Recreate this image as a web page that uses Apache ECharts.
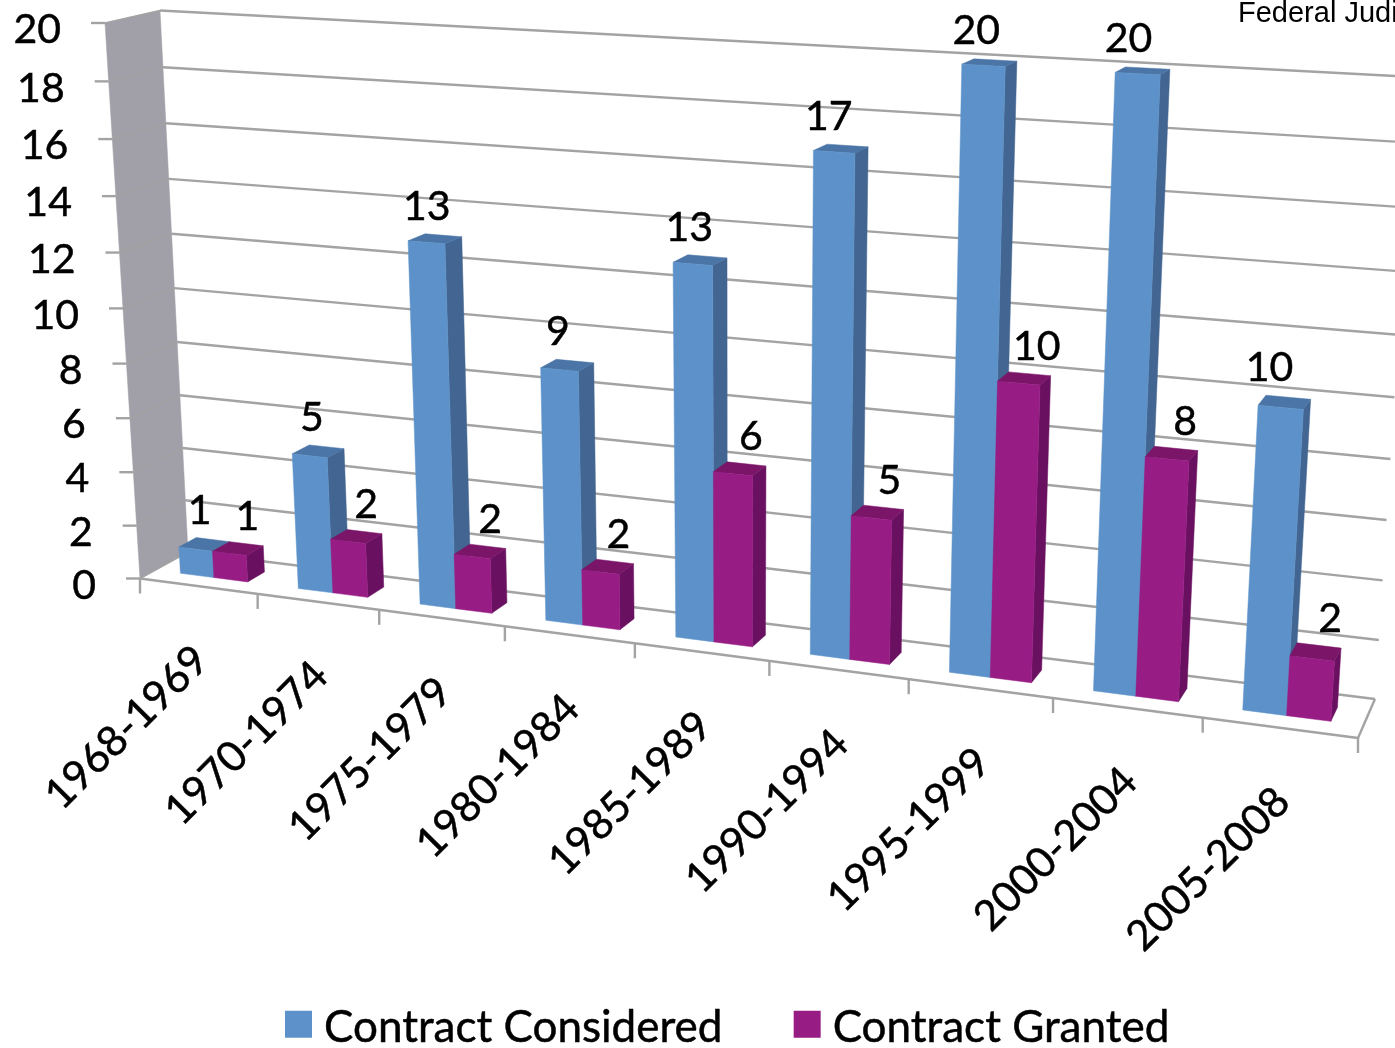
<!DOCTYPE html>
<html>
<head>
<meta charset="utf-8">
<style>html,body{margin:0;padding:0;background:#fff;overflow:hidden}#c{width:1395px;height:1048px}</style>
<script src="https://cdn.jsdelivr.net/npm/echarts@6/dist/echarts.min.js"></script>
</head>
<body>
<div id="c"></div>
<script>
var categories = ['1968-1969','1970-1974','1975-1979','1980-1984','1985-1989','1990-1994','1995-1999','2000-2004','2005-2008'];
var considered = [1,5,13,9,13,17,20,20,10];
var granted = [1,2,2,2,6,5,10,8,2];
var valueTicks = [0,2,4,6,8,10,12,14,16,18,20];
var seriesNames = ['Contract Considered','Contract Granted'];
var note = 'Federal Judi';

var FONT = 'Lato';
var LINE = '#a3a3a3';
var BLUE = {front:'#5c92c9', side:'#426591', top:'#4a75a6'};
var PURPLE = {front:'#971d85', side:'#6a1060', top:'#7a1568'};

// perspective box: corners of the front and back planes on the page
function homography(p0,p1,p2,p3){
  var dx1=p1[0]-p2[0],dx2=p3[0]-p2[0],sx=p0[0]-p1[0]+p2[0]-p3[0];
  var dy1=p1[1]-p2[1],dy2=p3[1]-p2[1],sy=p0[1]-p1[1]+p2[1]-p3[1];
  var den=dx1*dy2-dx2*dy1,g=(sx*dy2-dx2*sy)/den,h=(dx1*sy-sx*dy1)/den;
  var a=p1[0]-p0[0]+g*p1[0],b=p3[0]-p0[0]+h*p3[0],d=p1[1]-p0[1]+g*p1[1],e=p3[1]-p0[1]+h*p3[1];
  return function(u,v){var w=g*u+h*v+1;return [(a*u+b*v+p0[0])/w,(d*u+e*v+p0[1])/w];};
}
var frontPlane = homography([140,578.5],[1358,738],[1398,93],[105,23]);
var backPlane = homography([188,552],[1375,699],[1415,77],[160,10.5]);
function P(u,v,w){
  var f=frontPlane(u,v),b=backPlane(u,v);
  return [f[0]+(b[0]-f[0])*w,f[1]+(b[1]-f[1])*w];
}
var DEPTH0=0.32, DEPTH1=0.68, BAR=0.287, GROUP_LEFT=-0.283;

function line(a,b,width){return {type:'line',silent:true,shape:{x1:a[0],y1:a[1],x2:b[0],y2:b[1]},style:{stroke:LINE,lineWidth:width||2.4}};}
function poly(pts,fill){return {type:'polygon',silent:true,shape:{points:pts},style:{fill:fill,stroke:fill,lineWidth:0.5}};}
function text(str,x,y,opts){
  var o=opts||{};
  return {type:'text',silent:true,x:x,y:y,rotation:o.rotation||0,style:{text:str,fill:'#000',stroke:'#000',lineWidth:0.5,font:(o.size||41)+'px '+FONT,align:o.align||'center',verticalAlign:'middle'}};
}

function renderValueFrame(params,api){
  var val=api.value(1),H=api.getHeight();
  var v=1-api.coord([0,val])[1]/H,kids=[];
  if(val===0){
    kids.push(poly([P(0,0,0),P(0,0,1),P(0,1,1),P(0,1,0)],'#a19fa7'));
  }
  var f=P(0,v,0),b=P(0,v,1),r=P(1,v,1);
  kids.push(line(b,r));
  kids.push(line(f,b,1.5));
  kids.push(line(f,[f[0]-14,f[1]]));
  kids.push(text(String(val),f[0]-44,f[1]+7,{align:'right'}));
  if(val===0){
    kids.push(line(P(0,0,0),P(1,0,0)));
    kids.push(line(P(1,0,0),P(1,0,1)));
    var e=P(1,0,0);
    kids.push(line(e,[e[0],e[1]+15]));
  }
  return {type:'group',children:kids};
}
function renderCategoryFrame(params,api){
  var i=api.value(0),W=api.getWidth();
  var c=api.coord([i,0]),band=api.size([1,0])[0];
  var t=P((c[0]-band/2)/W,0,0),m=P(c[0]/W,0,0);
  return {type:'group',children:[
    line(t,[t[0],t[1]+15]),
    text(categories[i],m[0]+3,m[1]+67,{align:'right',rotation:Math.PI/4,size:42})
  ]};
}
function barRenderer(index,col){
  return function(params,api){
    var i=api.value(0),val=api.value(1),W=api.getWidth(),H=api.getHeight();
    var c=api.coord([i,val]),band=api.size([1,0])[0];
    var u0=(c[0]+(GROUP_LEFT+index*BAR)*band)/W,u1=u0+BAR*band/W,v=1-c[1]/H;
    var a=DEPTH0,b=DEPTH1;
    var topBack=P((u0+u1)/2,v,b),topFront=P((u0+u1)/2,v,a);
    var lx=topFront[0]+(index===0?5-17*(c[0]/W):18);
    return {type:'group',children:[
      poly([P(u1,0,a),P(u1,0,b),P(u1,v,b),P(u1,v,a)],col.side),
      poly([P(u0,v,a),P(u1,v,a),P(u1,v,b),P(u0,v,b)],col.top),
      poly([P(u0,0,a),P(u1,0,a),P(u1,v,a),P(u0,v,a)],col.front),
      text(String(val),lx,topBack[1]-(index===0?29:27))
    ]};
  };
}
function pairs(arr){return arr.map(function(v,i){return [i,v];});}

var chart=echarts.init(document.getElementById('c'),null,{width:1395,height:1048});
chart.setOption({
  animation:false,
  backgroundColor:'#fff',
  title:{text:note,left:1238,top:-1,padding:0,textStyle:{fontFamily:'Liberation Sans',fontSize:29,fontWeight:'normal',color:'#000'}},
  grid:{left:0,right:0,top:0,bottom:0},
  xAxis:{type:'category',data:categories,show:false},
  yAxis:{type:'value',min:0,max:20,interval:2,show:false},
  legend:{
    data:seriesNames,left:285,top:1006,icon:'rect',itemWidth:27,itemHeight:27,itemGap:71,
    selectedMode:false,padding:0,
    formatter:'{t|{name}}',
    textStyle:{rich:{t:{fontFamily:FONT,fontSize:44,color:'#000',padding:[8,0,0,7],textBorderColor:'#000',textBorderWidth:0.5}}}
  },
  series:[
    {type:'custom',name:'frameV',silent:true,data:valueTicks.map(function(t){return [0,t];}),renderItem:renderValueFrame},
    {type:'custom',name:'frameC',silent:true,data:categories.map(function(c,i){return [i,0];}),renderItem:renderCategoryFrame},
    {type:'custom',name:seriesNames[0],silent:true,itemStyle:{color:BLUE.front},data:pairs(considered),renderItem:barRenderer(0,BLUE)},
    {type:'custom',name:seriesNames[1],silent:true,itemStyle:{color:PURPLE.front},data:pairs(granted),renderItem:barRenderer(1,PURPLE)}
  ]
});
</script>
</body>
</html>
